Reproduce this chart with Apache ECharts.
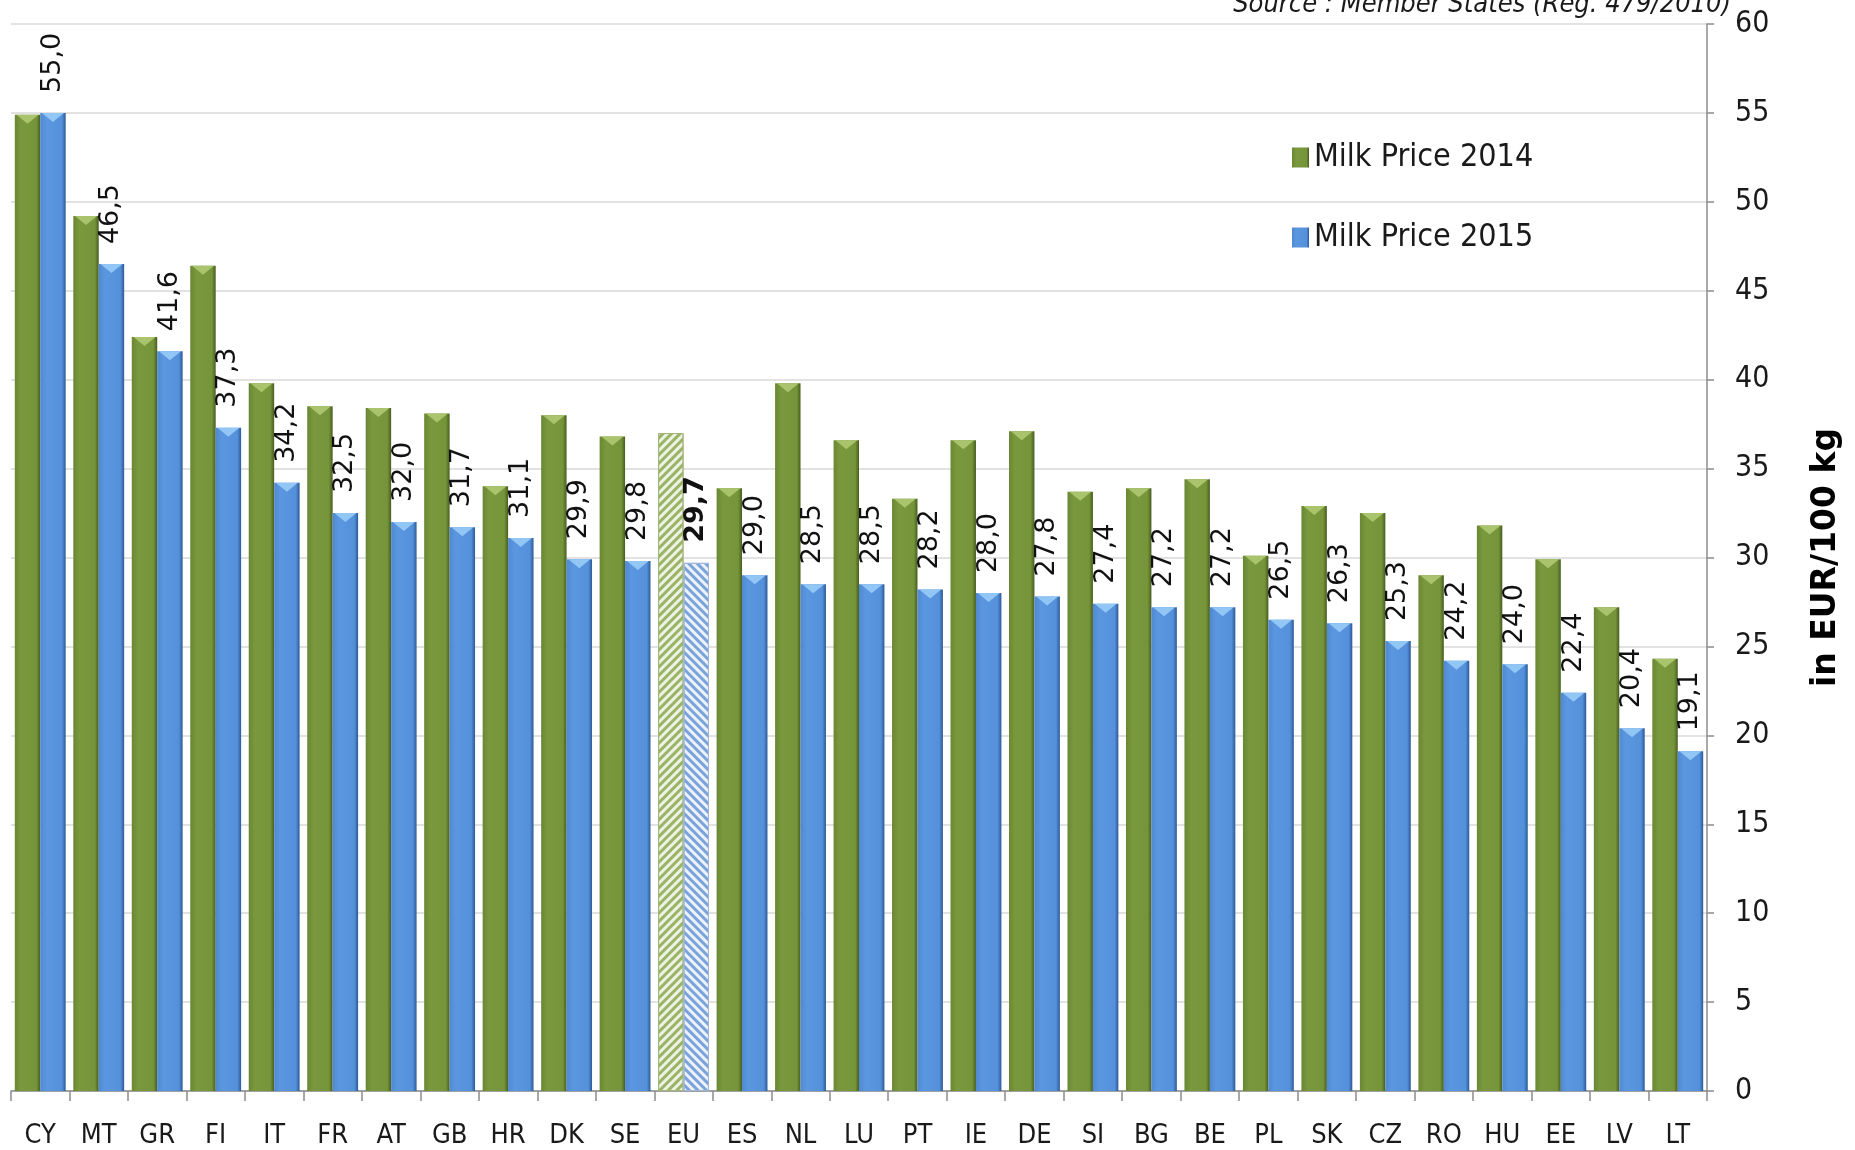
<!DOCTYPE html>
<html><head><meta charset="utf-8">
<script src="https://cdn.jsdelivr.net/npm/echarts@6/dist/echarts.min.js"></script>
<style>html,body{margin:0;padding:0;background:#fff}#chart{width:1855px;height:1150px}</style>
</head><body><div id="chart"></div>
<script>
const categories = ['CY','MT','GR','FI','IT','FR','AT','GB','HR','DK','SE','EU','ES','NL','LU','PT','IE','DE','SI','BG','BE','PL','SK','CZ','RO','HU','EE','LV','LT'];
const price2014 = [54.9,49.2,42.4,46.4,39.8,38.5,38.4,38.1,34.0,38.0,36.8,37.0,33.9,39.8,36.6,33.3,36.6,37.1,33.7,33.9,34.4,30.1,32.9,32.5,29.0,31.8,29.9,27.2,24.3];
const price2015 = [55.0,46.5,41.6,37.3,34.2,32.5,32.0,31.7,31.1,29.9,29.8,29.7,29.0,28.5,28.5,28.2,28.0,27.8,27.4,27.2,27.2,26.5,26.3,25.3,24.2,24.0,22.4,20.4,19.1];
const seriesNames = ['Milk Price 2014','Milk Price 2015'];
const highlightCategory = 'EU';
const yMin = 0, yMax = 60, yInterval = 5;
const axisTitle = 'in EUR/100 kg';
const sourceText = 'Source : Member States (Reg. 479/2010)';

const COND = '"DejaVu Sans Condensed", "DejaVu Sans", sans-serif';
const greenGrad = {type:'linear',x:0,y:0,x2:1,y2:0,colorStops:[
  {offset:0,color:'#6a8734'},{offset:0.25,color:'#7a993d'},{offset:0.85,color:'#76943a'},{offset:1,color:'#475d1f'}]};
const blueGrad = {type:'linear',x:0,y:0,x2:1,y2:0,colorStops:[
  {offset:0,color:'#4f89d2'},{offset:0.25,color:'#5b97e0'},{offset:0.85,color:'#5591db'},{offset:1,color:'#2d5a96'}]};
const fmt = v => v.toFixed(1).replace('.', ',');
const isHL = i => categories[i] === highlightCategory;

const data2014 = price2014.map((v,i)=> isHL(i) ? {value:v, itemStyle:{color:'#eef2e4', borderColor:'#a3b77d', borderWidth:1,
  decal:{symbol:'rect', symbolSize:1, color:'#9ab465', dashArrayX:[1,0], dashArrayY:[3,3], rotation:-Math.PI/4}}} : v);
const data2015 = price2015.map((v,i)=> isHL(i) ? {value:v, itemStyle:{color:'#edf2fa', borderColor:'#9fb6d8', borderWidth:1,
  decal:{symbol:'rect', symbolSize:1, color:'#7aa3da', dashArrayX:[1,0], dashArrayY:[3,3], rotation:Math.PI/4}},
  label:{fontWeight:'bold'}} : v);
const cap = arr => arr.map((v,i)=> isHL(i) ? {value:v, symbol:'none'} : v);

const chart = echarts.init(document.getElementById('chart'), null, {renderer:'canvas'});
chart.setOption({
  animation:false,
  backgroundColor:'#fff',
  grid:{left:11, right:148, top:24, bottom:59, containLabel:false},
  legend:{
    data:seriesNames, orient:'vertical', left:1287, top:135, itemGap:45,
    itemWidth:17, itemHeight:20, icon:'rect',
    textStyle:{fontFamily:COND, fontSize:32, color:'#1a1a1a', lineHeight:35}
  },
  xAxis:{
    type:'category', data:categories,
    axisLine:{lineStyle:{color:'#8c8c8c', width:1.5}},
    axisTick:{show:true, length:10, lineStyle:{color:'#8c8c8c', width:1.5}},
    axisLabel:{fontFamily:COND, fontSize:27, color:'#1a1a1a', margin:31, interval:0}
  },
  yAxis:{
    type:'value', position:'right', min:yMin, max:yMax, interval:yInterval,
    name:axisTitle, nameLocation:'middle', nameRotate:90, nameGap:103,
    nameTextStyle:{fontFamily:'"DejaVu Sans", sans-serif', fontWeight:'bold', fontSize:33, color:'#000'},
    axisLine:{show:true, lineStyle:{color:'#8c8c8c', width:1.5}},
    axisTick:{show:true, length:7, lineStyle:{color:'#8c8c8c', width:1.5}},
    axisLabel:{fontFamily:COND, fontSize:30, color:'#1a1a1a', margin:28},
    splitLine:{lineStyle:{color:'#d9d9d9', width:1.5}}
  },
  graphic:[{type:'text', right:124, top:-9, style:{text:sourceText, font:'italic 27px ' + COND, fill:'#1a1a1a'}}],
  series:[
    {type:'bar', name:seriesNames[0], data:data2014, barGap:'0%', barCategoryGap:'13%',
      itemStyle:{color:greenGrad}},
    {type:'bar', name:seriesNames[1], data:data2015,
      itemStyle:{color:blueGrad},
      label:{show:true, position:'top', rotate:90, align:'left', verticalAlign:'middle', distance:20,
        fontFamily:'"DejaVu Sans", sans-serif', fontSize:27, color:'#111', formatter:p=>fmt(p.value)}},
    {type:'pictorialBar', name:'cap2014', data:cap(price2014), symbol:'triangle', symbolRotate:180,
      symbolSize:[22,9], symbolPosition:'end', symbolOffset:['-57.7%',0], z:5, silent:true,
      itemStyle:{color:'#a9c46c'}},
    {type:'pictorialBar', name:'cap2015', data:cap(price2015), symbol:'triangle', symbolRotate:180,
      symbolSize:[22,9], symbolPosition:'end', symbolOffset:['57.7%',0], z:5, silent:true,
      itemStyle:{color:'#92c6f4'}}
  ]
});
</script></body></html>
